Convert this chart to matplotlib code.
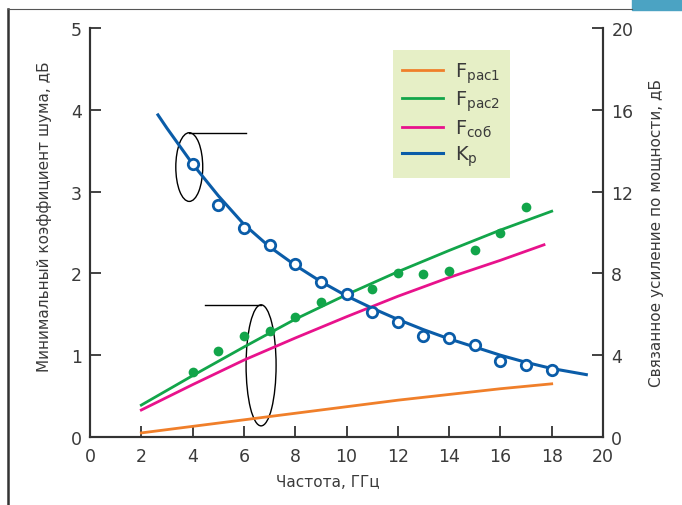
import matplotlib.pyplot as plt
from matplotlib.patches import Ellipse, Rectangle
from matplotlib.lines import Line2D

plt.rcParams['font.family'] = ['DejaVu Sans']
plt.rcParams['mathtext.fontset'] = 'dejavusans'

# frequency, GHz
f_line = [2, 4, 6, 8, 10, 12, 14, 16, 18]
f_pac1 = [0.05, 0.13, 0.21, 0.29, 0.37, 0.45, 0.52, 0.59, 0.65]
f_pac2 = [0.39, 0.75, 1.1, 1.44, 1.74, 2.02, 2.28, 2.53, 2.76]

f_cob_x = [2, 4, 6, 8, 10, 12, 14, 16, 17.7]
f_cob = [0.33, 0.64, 0.94, 1.21, 1.47, 1.72, 1.95, 2.16, 2.35]

# measured noise figure points
dots_x = [4, 5, 6, 7, 8, 9, 11, 12, 13, 14, 15, 16, 17]
dots_y = [0.8, 1.05, 1.24, 1.29, 1.47, 1.65, 1.81, 2.0, 1.99, 2.03, 2.29, 2.49, 2.81]

# associated gain, dB (right axis)
kp_x = [2.65, 3, 4, 5, 6, 7, 8, 9, 10, 11, 12, 13, 14, 15, 16, 17, 18, 19.35]
kp = [15.75, 15.1, 13.35, 11.8, 10.4, 9.3, 8.4, 7.6, 6.9, 6.3, 5.75, 5.25,
      4.8, 4.4, 4.0, 3.65, 3.35, 3.05]
kp_meas_x = [4, 5, 6, 7, 8, 9, 10, 11, 12, 13, 14, 15, 16, 17, 18]
kp_meas = [13.35, 11.34, 10.22, 9.39, 8.46, 7.58, 6.99, 6.1, 5.6, 4.93, 4.84,
           4.5, 3.7, 3.53, 3.26]

c_or = '#f07f2a'
c_gr = '#12a54a'
c_pk = '#e8128c'
c_bl = '#0a5ca8'
c_tx = '#3a3a3a'

fig = plt.figure(figsize=(6.82, 5.06), dpi=100)
ax = fig.add_axes([90/682, 68/506, 513/682, 409/506])
ax2 = ax.twinx()

l1, = ax.plot(f_line, f_pac1, color=c_or, lw=2)
l2, = ax.plot(f_line, f_pac2, color=c_gr, lw=2)
l3, = ax.plot(f_cob_x, f_cob, color=c_pk, lw=2)
ax.plot(dots_x, dots_y, 'o', color=c_gr, ms=7, mec='none')

l4, = ax2.plot(kp_x, kp, color=c_bl, lw=2.2)
ax2.plot(kp_meas_x, kp_meas, 'o', mfc='white', mec=c_bl, mew=2, ms=7.5)

# callout ellipses
ax.add_patch(Ellipse((3.87, 3.30), 1.05, 0.84, fill=False, ec='black', lw=1))
ax.plot([3.87, 6.07], [3.72, 3.72], color='black', lw=1)
ax.add_patch(Ellipse((6.67, 0.876), 1.17, 1.48, fill=False, ec='black', lw=1))
ax.plot([4.48, 6.67], [1.61, 1.61], color='black', lw=1)

ax.set_xlim(0, 20)
ax.set_ylim(0, 5)
ax2.set_ylim(0, 20)
ax.set_xticks(range(0, 21, 2))
ax.set_yticks(range(0, 6))
ax2.set_yticks(range(0, 21, 4))

for a in (ax, ax2):
    a.spines['top'].set_visible(False)
    for s in a.spines.values():
        s.set_color('#333333')
        s.set_linewidth(1.5)
    a.tick_params(direction='in', length=8, width=1.3, colors='#333333',
                  labelcolor=c_tx, labelsize=12.5, pad=6)
ax.tick_params(axis='x', pad=7)

ax.set_xlabel('Частота, ГГц', fontsize=11, color=c_tx)
ax.xaxis.set_label_coords(0.464, -0.09)
ax.set_ylabel('Минимальный коэффициент шума, дБ', fontsize=11, color=c_tx)
ax.yaxis.set_label_coords(-0.075, 0.54)
ax2.set_ylabel('Связанное усиление по мощности, дБ', fontsize=11, color=c_tx)
ax2.yaxis.set_label_coords(1.09, 0.5)

leg = ax.legend([l1, l2, l3, l4],
                [r'F$_{\mathrm{рас1}}$', r'F$_{\mathrm{рас2}}$',
                 r'F$_{\mathrm{соб}}$', r'K$_{\mathrm{p}}$'],
                loc='upper left', bbox_to_anchor=(0.59, 0.945),
                fontsize=14, frameon=True, fancybox=False,
                facecolor='#e6efc6', edgecolor='none', framealpha=1,
                handlelength=2.1, handletextpad=0.6, labelspacing=0.22,
                borderpad=0.5, borderaxespad=0)
for t in leg.get_texts():
    t.set_color(c_tx)

# page frame
fig.add_artist(Line2D([8/682, 8/682], [0, 496/506], color='#333333', lw=1.8))
fig.add_artist(Line2D([8/682, 632/682], [496/506, 496/506], color='#555555', lw=0.8))
fig.add_artist(Rectangle((632/682, 495/506), 50/682, 11/506, color='#4ba3c3',
                         transform=fig.transFigure))

fig.savefig('out.png', dpi=100)
